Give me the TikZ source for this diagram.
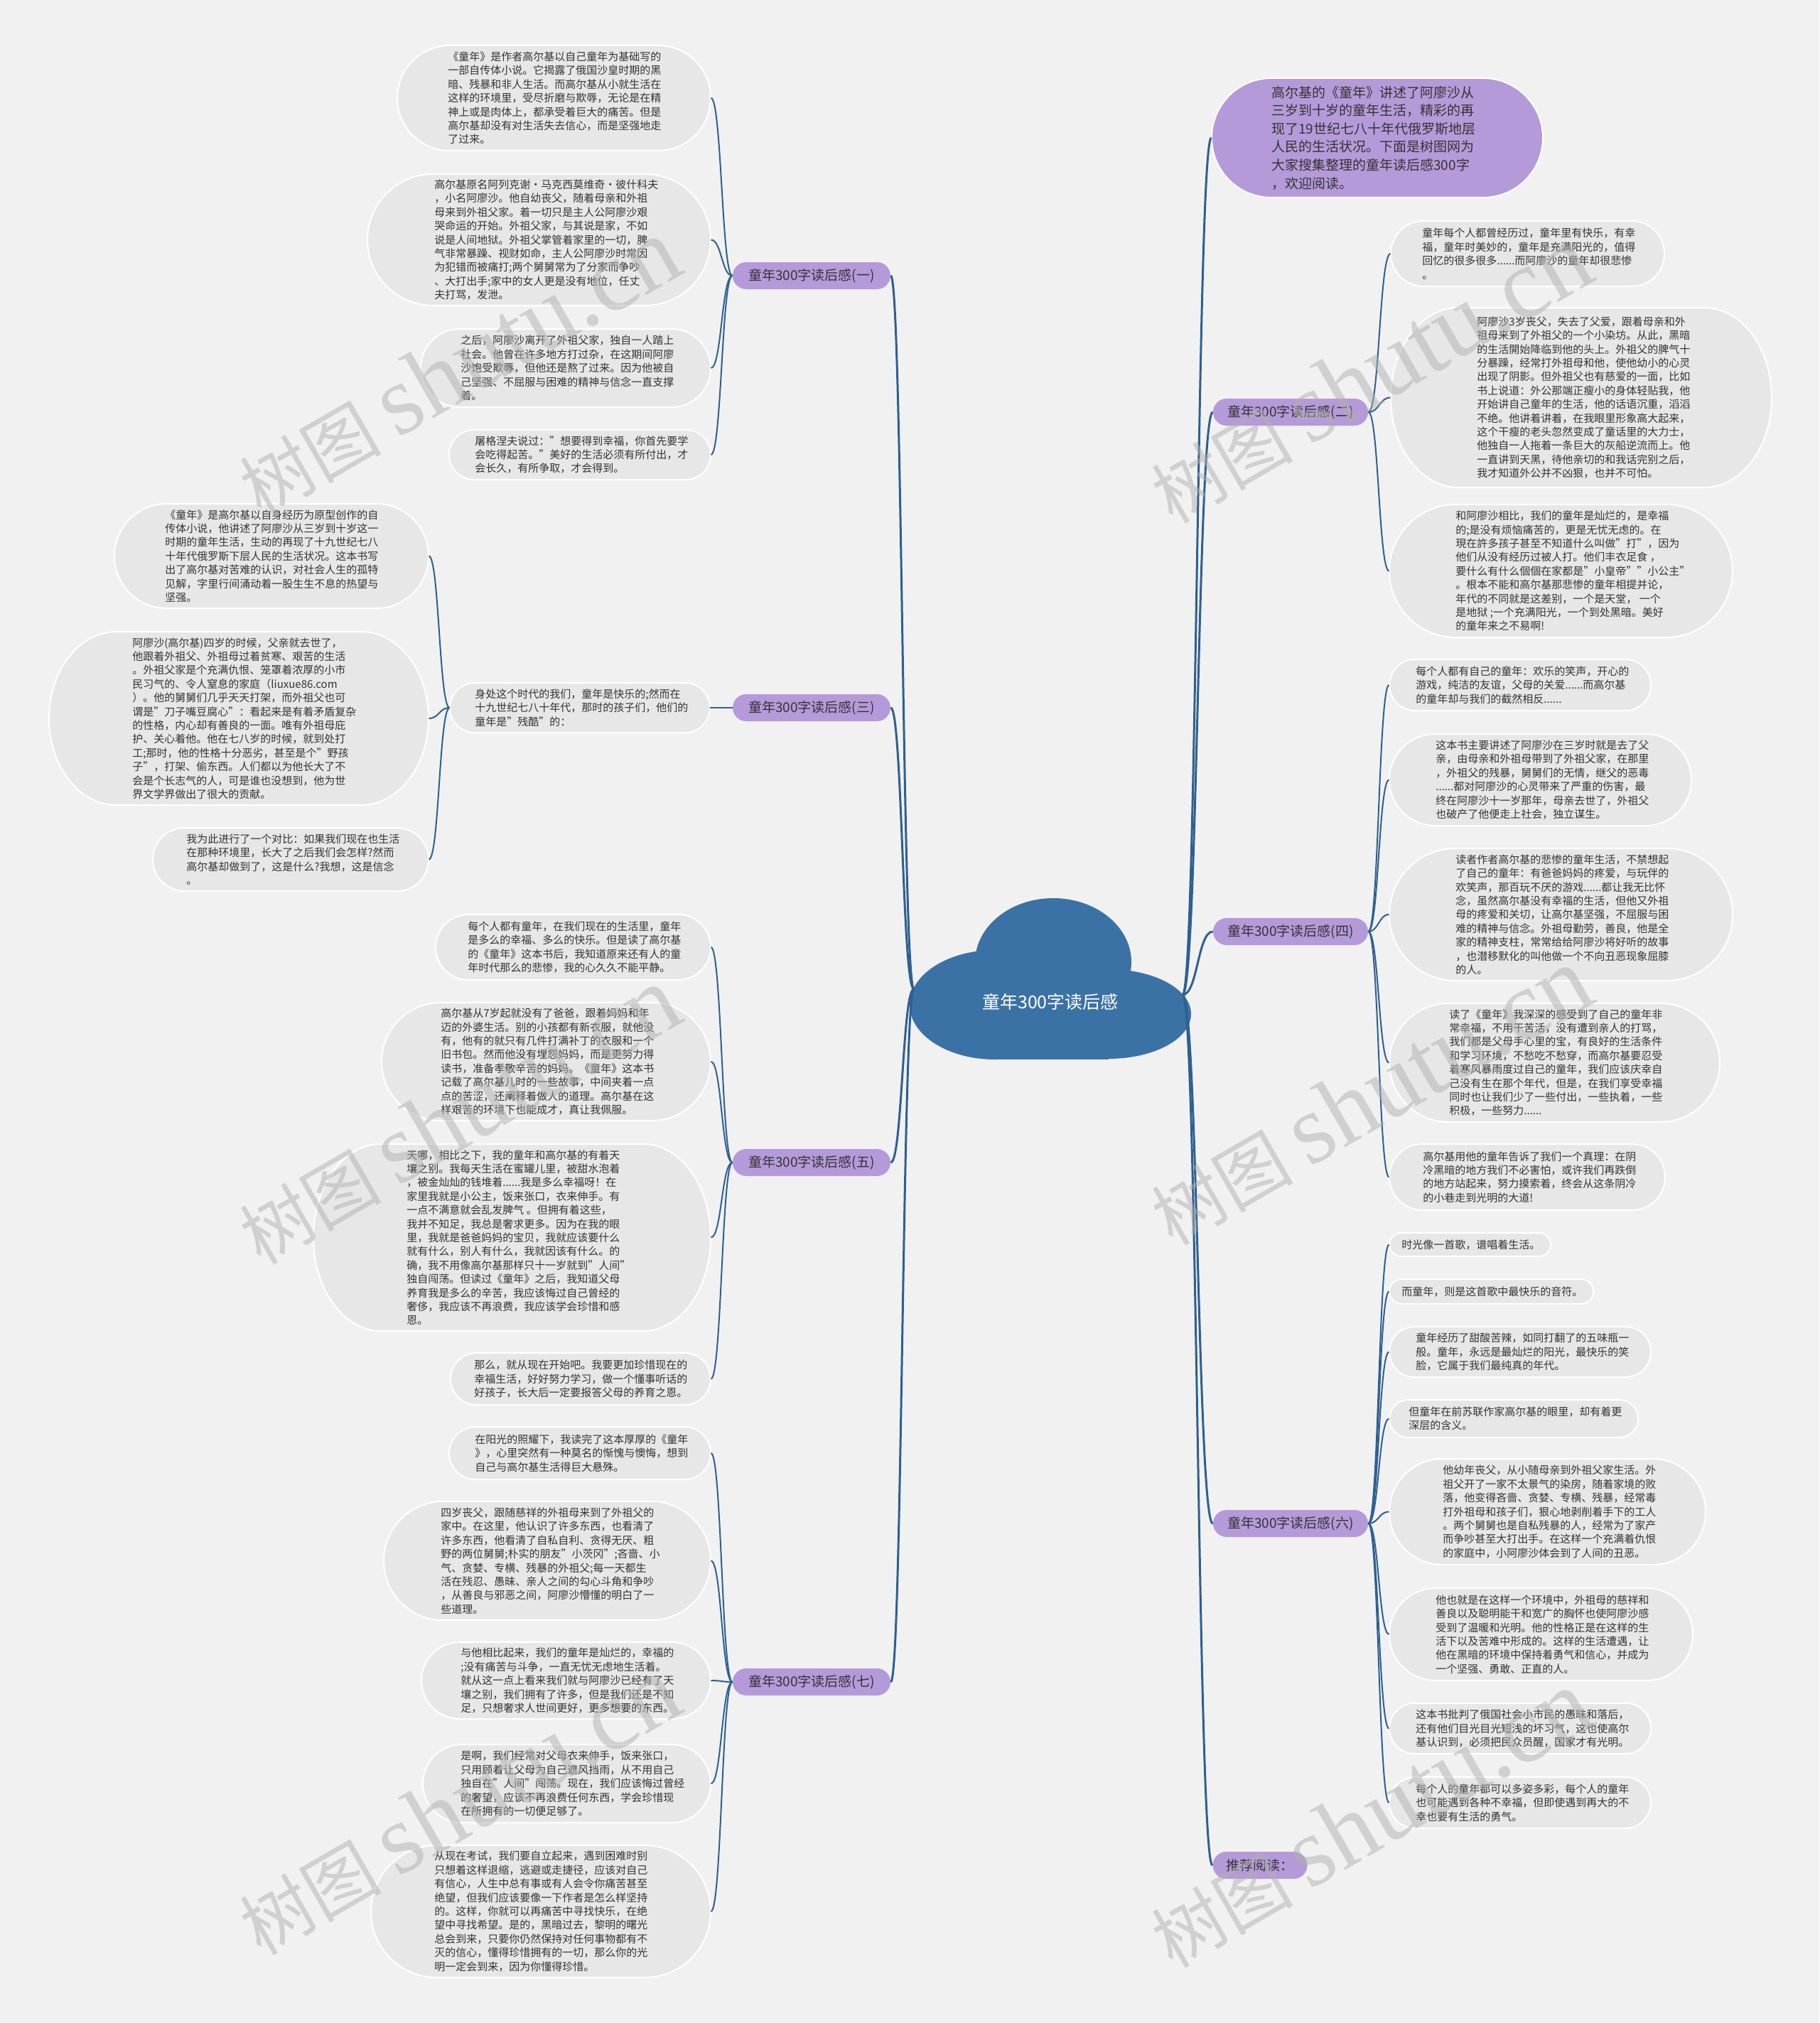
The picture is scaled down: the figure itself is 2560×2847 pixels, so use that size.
\documentclass[tikz,border=0pt]{standalone}
\usepackage{fontspec}
\setmainfont{Noto Sans CJK SC}
\newfontfamily\wmlatin{Liberation Serif}
\usetikzlibrary{fit,calc,shapes.misc}
\definecolor{bgc}{HTML}{F1F1F1}
\definecolor{bubc}{HTML}{E7E7E7}
\definecolor{labc}{HTML}{B59AD9}
\definecolor{linec}{HTML}{2E6090}
\definecolor{cloudc}{HTML}{3B72A5}
\definecolor{txtc}{HTML}{333333}
\definecolor{wmc}{HTML}{B0B0B0}
\tikzset{
 bubble/.style={fill=bubc, draw=white, line width=1pt},
 introbub/.style={fill=labc, draw=white, line width=1pt},
 leaftext/.style={font=\fontsize{7.5pt}{9.7pt}\selectfont, text=txtc, align=left, inner sep=0pt},
 introtext/.style={font=\fontsize{9.5pt}{12.8pt}\selectfont, text=txtc, align=left, inner sep=0pt},
 lab/.style={rounded rectangle, fill=labc, minimum height=19pt, inner sep=0pt, font=\fontsize{9.5pt}{11pt}\selectfont, text=txtc},
 mainline/.style={draw=linec, line width=1.5pt},
 subline/.style={draw=linec, line width=1pt},
 wm/.style={text=wmc, text opacity=0.5, rotate=30, inner sep=0pt}
}
% bubble shape: #1 style, #2 x1, #3 y1, #4 x2, #5 y2
\newcommand\bubshape[5]{%
 \pgfmathsetmacro\bhh{(#5-#3)/2}%
 \pgfmathsetmacro\brx{min(95,\bhh)}%
 \pgfmathsetmacro\bym{(#3+#5)/2}%
 \path[#1] (#2+\brx,#3) -- (#4-\brx,#3) .. controls (#4-0.448*\brx,#3) and (#4,\bym-0.552*\bhh) .. (#4,\bym) .. controls (#4,\bym+0.552*\bhh) and (#4-0.448*\brx,#5) .. (#4-\brx,#5) -- (#2+\brx,#5) .. controls (#2+0.448*\brx,#5) and (#2,\bym+0.552*\bhh) .. (#2,\bym) .. controls (#2,\bym-0.552*\bhh) and (#2+0.448*\brx,#3) .. (#2+\brx,#3) -- cycle;%
}
% leaf: #1 name, #2 x1, #3 y1, #4 x2, #5 y2, #6 text left, #7 text
\newcommand\leaf[7]{%
 \bubshape{bubble}{#2}{#3}{#4}{#5}%
 \node[fit={(#2,#3)(#4,#5)}, inner sep=0pt] (#1) {};%
 \node[leaftext, anchor=west] (#1-t) at (#6,\bym) {#7};%
}
\newcommand\sconn[3][subline]{\draw[#1] let \p1=(#2), \p2=(#3) in (\p1) .. controls ({(\x1+\x2)/2},\y1) and ({(\x1+\x2)/2},\y2) .. (\p2);}

\begin{document}
\begin{tikzpicture}[x=0.5pt,y=-0.5pt]
\fill[bgc] (0,0) rectangle (2560,2847);
\useasboundingbox (0,0) rectangle (2560,2847);

% ---------- cloud ----------
\fill[cloudc] (1400,1414) ellipse [x radius=120, y radius=77];
\fill[cloudc] (1482,1354) ellipse [x radius=110, y radius=90];
\fill[cloudc] (1560,1427) ellipse [x radius=116, y radius=63];
\fill[cloudc] (1400,1380) rectangle (1560,1491);
\node[font=\fontsize{12.5pt}{14pt}\selectfont, text=white] (root) at (1478,1410) {童年300字读后感};
\coordinate (root-l) at (1286,1392);
\coordinate (root-r) at (1664,1400);

% ---------- labels ----------
\node[lab, minimum width=111pt] (s1) at (1142,388) {童年300字读后感(一)};
\node[lab, minimum width=111pt] (s3) at (1142,996) {童年300字读后感(三)};
\node[lab, minimum width=111pt] (s5) at (1142,1636) {童年300字读后感(五)};
\node[lab, minimum width=111pt] (s7) at (1142,2367) {童年300字读后感(七)};
\node[lab, minimum width=109pt] (s2) at (1816,580) {童年300字读后感(二)};
\node[lab, minimum width=109pt] (s4) at (1816,1311) {童年300字读后感(四)};
\node[lab, minimum width=109pt] (s6) at (1816,2144) {童年300字读后感(六)};
\node[lab, minimum width=66.5pt] (s8) at (1773,2625) {推荐阅读：};

% ---------- intro ----------
\bubshape{introbub}{1705}{110}{2171}{278}
\node[fit={(1705,110)(2171,278)}, inner sep=0pt] (intro) {};
\node[introtext, anchor=west] (intro-t) at (1789,194) {高尔基的《童年》讲述了阿廖沙从\\三岁到十岁的童年生活，精彩的再\\现了19世纪七八十年代俄罗斯地层\\人民的生活状况。下面是树图网为\\大家搜集整理的童年读后感300字\\，欢迎阅读。};

% ---------- section 1 ----------
\leaf{L1a}{559}{64}{1000}{212}{630}{《童年》是作者高尔基以自己童年为基础写的\\一部自传体小说。它揭露了俄国沙皇时期的黑\\暗、残暴和非人生活。而高尔基从小就生活在\\这样的环境里，受尽折磨与欺辱，无论是在精\\神上或是肉体上，都承受着巨大的痛苦。但是\\高尔基却没有对生活失去信心，而是坚强地走\\了过来。}
\leaf{L1b}{517}{245}{1000}{430}{611}{高尔基原名阿列克谢·马克西莫维奇·彼什科夫\\，小名阿廖沙。他自幼丧父，随着母亲和外祖\\母来到外祖父家。着一切只是主人公阿廖沙艰\\哭命运的开始。外祖父家，与其说是家，不如\\说是人间地狱。外祖父掌管着家里的一切，脾\\气非常暴躁、视财如命，主人公阿廖沙时常因\\为犯错而被痛打;两个舅舅常为了分家而争吵\\、大打出手;家中的女人更是没有地位，任丈\\夫打骂，发泄。}
\leaf{L1c}{592}{463}{1000}{573}{648}{之后，阿廖沙离开了外祖父家，独自一人踏上\\社会。他曾在许多地方打过杂，在这期间阿廖\\沙饱受欺辱，但他还是熬了过来。因为他被自\\己坚强、不屈服与困难的精神与信念一直支撑\\着。}
\leaf{L1d}{632}{605}{1000}{675}{668}{屠格涅夫说过："想要得到幸福，你首先要学\\会吃得起苦。"美好的生活必须有所付出，才\\会长久，有所争取，才会得到。}

% ---------- section 3 ----------
\leaf{L3p}{633}{961}{999}{1031}{668}{身处这个时代的我们，童年是快乐的;然而在\\十九世纪七八十年代，那时的孩子们，他们的\\童年是"残酷"的：}
\leaf{L3a}{161}{709}{603}{856}{232}{《童年》是高尔基以自身经历为原型创作的自\\传体小说，他讲述了阿廖沙从三岁到十岁这一\\时期的童年生活，生动的再现了十九世纪七八\\十年代俄罗斯下层人民的生活状况。这本书写\\出了高尔基对苦难的认识，对社会人生的孤特\\见解，字里行间涌动着一股生生不息的热望与\\坚强。}
\leaf{L3b}{69}{889}{603}{1133}{186}{阿廖沙(高尔基)四岁的时候，父亲就去世了，\\他跟着外祖父、外祖母过着贫寒、艰苦的生活\\。外祖父家是个充满仇恨、笼罩着浓厚的小市\\民习气的、令人窒息的家庭（liuxue86.com\\）。他的舅舅们几乎天天打架，而外祖父也可\\谓是"刀子嘴豆腐心"：看起来是有着矛盾复杂\\的性格，内心却有善良的一面。唯有外祖母庇\\护、关心着他。他在七八岁的时候，就到处打\\工;那时，他的性格十分恶劣，甚至是个"野孩\\子"，打架、偷东西。人们都以为他长大了不\\会是个长志气的人，可是谁也没想到，他为世\\界文学界做出了很大的贡献。}
\leaf{L3c}{215}{1165}{603}{1254}{262}{我为此进行了一个对比：如果我们现在也生活\\在那种环境里，长大了之后我们会怎样?然而\\高尔基却做到了，这是什么?我想，这是信念\\。}

% ---------- section 5 ----------
\leaf{L5a}{613}{1287}{1000}{1379}{658}{每个人都有童年，在我们现在的生活里，童年\\是多么的幸福、多么的快乐。但是读了高尔基\\的《童年》这本书后，我知道原来还有人的童\\年时代那么的悲惨，我的心久久不能平静。}
\leaf{L5b}{537}{1411}{1000}{1577}{620}{高尔基从7岁起就没有了爸爸，跟着妈妈和年\\迈的外婆生活。别的小孩都有新衣服，就他没\\有，他有的就只有几件打满补丁的衣服和一个\\旧书包。然而他没有埋怨妈妈，而是更努力得\\读书，准备孝敬辛苦的妈妈。《童年》这本书\\记载了高尔基儿时的一些故事，中间夹着一点\\点的苦涩，还阐释着做人的道理。高尔基在这\\样艰苦的环境下也能成才，真让我佩服。}
\leaf{L5c}{441}{1610}{1000}{1873}{572}{天哪，相比之下，我的童年和高尔基的有着天\\壤之别。我每天生活在蜜罐儿里，被甜水泡着\\，被金灿灿的钱堆着......我是多么幸福呀！在\\家里我就是小公主，饭来张口，衣来伸手。有\\一点不满意就会乱发脾气 。但拥有着这些，\\我并不知足，我总是奢求更多。因为在我的眼\\里，我就是爸爸妈妈的宝贝，我就应该要什么\\就有什么，别人有什么，我就因该有什么。的\\确，我不用像高尔基那样只十一岁就到"人间"\\独自闯荡。但读过《童年》之后，我知道父母\\养育我是多么的辛苦，我应该悔过自己曾经的\\奢侈，我应该不再浪费，我应该学会珍惜和感\\恩。}
\leaf{L5d}{634}{1904}{1000}{1977}{667}{那么，就从现在开始吧。我要更加珍惜现在的\\幸福生活，好好努力学习，做一个懂事听话的\\好孩子，长大后一定要报答父母的养育之恩。}

% ---------- section 7 ----------
\leaf{L7a}{632}{2008}{1000}{2082}{668}{在阳光的照耀下，我读完了这本厚厚的《童年\\》，心里突然有一种莫名的惭愧与懊悔，想到\\自己与高尔基生活得巨大悬殊。}
\leaf{L7b}{540}{2113}{1000}{2280}{620}{四岁丧父，跟随慈祥的外祖母来到了外祖父的\\家中。在这里，他认识了许多东西，也看清了\\许多东西，他看清了自私自利、贪得无厌、粗\\野的两位舅舅;朴实的朋友"小茨冈";吝啬、小\\气、贪婪、专横、残暴的外祖父;每一天都生\\活在残忍、愚昧、亲人之间的勾心斗角和争吵\\，从善良与邪恶之间，阿廖沙懵懂的明白了一\\些道理。}
\leaf{L7c}{593}{2311}{1000}{2419}{648}{与他相比起来，我们的童年是灿烂的，幸福的\\;没有痛苦与斗争，一直无忧无虑地生活着。\\就从这一点上看来我们就与阿廖沙已经有了天\\壤之别，我们拥有了许多，但是我们还是不知\\足，只想奢求人世间更好，更多想要的东西。}
\leaf{L7d}{595}{2455}{1000}{2565}{648}{是啊，我们经常对父母衣来伸手，饭来张口，\\只用顾着让父母为自己遮风挡雨，从不用自己\\独自在"人间"闯荡。现在，我们应该悔过曾经\\的奢望，应该不再浪费任何东西，学会珍惜现\\在所拥有的一切便足够了。}
\leaf{L7e}{522}{2597}{1000}{2783}{611}{从现在考试，我们要自立起来，遇到困难时别\\只想着这样退缩，逃避或走捷径，应该对自己\\有信心，人生中总有事或有人会令你痛苦甚至\\绝望，但我们应该要像一下作者是怎么样坚持\\的。这样，你就可以再痛苦中寻找快乐，在绝\\望中寻找希望。是的，黑暗过去，黎明的曙光\\总会到来，只要你仍然保持对任何事物都有不\\灭的信心，懂得珍惜拥有的一切，那么你的光\\明一定会到来，因为你懂得珍惜。}

% ---------- section 2 ----------
\leaf{R2a}{1957}{311}{2342}{403}{2001}{童年每个人都曾经历过，童年里有快乐，有幸\\福，童年时美妙的，童年是充满阳光的，值得\\回忆的很多很多......而阿廖沙的童年却很悲惨\\。}
\leaf{R2b}{1957}{433}{2493}{686}{2078}{阿廖沙3岁丧父，失去了父爱，跟着母亲和外\\祖母来到了外祖父的一个小染坊。从此，黑暗\\的生活開始降临到他的头上。外祖父的脾气十\\分暴躁，经常打外祖母和他，使他幼小的心灵\\出现了阴影。但外祖父也有慈爱的一面，比如\\书上说道：外公那端正瘦小的身体轻贴我，他\\开始讲自己童年的生活，他的话语沉重，滔滔\\不绝。他讲着讲着，在我眼里形象高大起来，\\这个干瘦的老头忽然变成了童话里的大力士，\\他独自一人拖着一条巨大的灰船逆流而上。他\\一直讲到天黑，待他亲切的和我话完别之后，\\我才知道外公并不凶狠，也并不可怕。}
\leaf{R2c}{1955}{710}{2438}{897}{2048}{和阿廖沙相比，我们的童年是灿烂的，是幸福\\的;是没有烦恼痛苦的，更是无忧无虑的。在\\現在許多孩子甚至不知道什么叫做"打"，因为\\他们从没有经历过被人打。他们丰衣足食 ，\\要什么有什么個個在家都是"小皇帝""小公主"\\。根本不能和高尔基那悲惨的童年相提并论，\\年代的不同就是这差别，一个是天堂， 一个\\是地狱 ;一个充满阳光，一个到处黑暗。美好\\的童年来之不易啊!}

% ---------- section 4 ----------
\leaf{R4a}{1955}{928}{2323}{1000}{1992}{每个人都有自己的童年：欢乐的笑声，开心的\\游戏，纯洁的友谊，父母的关爱......而高尔基\\的童年却与我们的截然相反......}
\leaf{R4b}{1955}{1033}{2380}{1162}{2020}{这本书主要讲述了阿廖沙在三岁时就是去了父\\亲，由母亲和外祖母带到了外祖父家，在那里\\，外祖父的残暴，舅舅们的无情，继父的恶毒\\......都对阿廖沙的心灵带来了严重的伤害，最\\终在阿廖沙十一岁那年，母亲去世了，外祖父\\也破产了他便走上社会，独立谋生。}
\leaf{R4c}{1955}{1194}{2438}{1380}{2048}{读者作者高尔基的悲惨的童年生活，不禁想起\\了自己的童年：有爸爸妈妈的疼爱，与玩伴的\\欢笑声，那百玩不厌的游戏......都让我无比怀\\念，虽然高尔基没有幸福的生活，但他又外祖\\母的疼爱和关切，让高尔基坚强，不屈服与困\\难的精神与信念。外祖母勤劳，善良，他是全\\家的精神支柱，常常给给阿廖沙将好听的故事\\，也潜移默化的叫他做一个不向丑恶现象屈膝\\的人。}
\leaf{R4d}{1955}{1412}{2420}{1579}{2039}{读了《童年》我深深的感受到了自己的童年非\\常幸福，不用干苦活，没有遭到亲人的打骂，\\我们都是父母手心里的宝，有良好的生活条件\\和学习环境，不愁吃不愁穿，而高尔基要忍受\\着寒风暴雨度过自己的童年，我们应该庆幸自\\己没有生在那个年代，但是，在我们享受幸福\\同时也让我们少了一些付出，一些执着，一些\\积极，一些努力......}
\leaf{R4e}{1955}{1610}{2343}{1703}{2002}{高尔基用他的童年告诉了我们一个真理：在阴\\冷黑暗的地方我们不必害怕，或许我们再跌倒\\的地方站起来，努力摸索着，终会从这条阴冷\\的小巷走到光明的大道!}

% ---------- section 6 ----------
\leaf{R6a}{1955}{1735}{2182}{1768}{1972}{时光像一首歌，谱唱着生活。}
\leaf{R6b}{1955}{1800}{2242}{1835}{1972}{而童年，则是这首歌中最快乐的音符。}
\leaf{R6c}{1955}{1867}{2323}{1938}{1992}{童年经历了甜酸苦辣，如同打翻了的五味瓶一\\般。童年，永远是最灿烂的阳光，最快乐的笑\\脸，它属于我们最纯真的年代。}
\leaf{R6d}{1955}{1970}{2305}{2023}{1982}{但童年在前苏联作家高尔基的眼里，却有着更\\深层的含义。}
\leaf{R6e}{1955}{2053}{2400}{2202}{2030}{他幼年丧父，从小随母亲到外祖父家生活。外\\祖父开了一家不太景气的染房，随着家境的败\\落，他变得吝啬、贪婪、专横、残暴，经常毒\\打外祖母和孩子们，狠心地剥削着手下的工人\\。两个舅舅也是自私残暴的人，经常为了家产\\而争吵甚至大打出手。在这样一个充满着仇恨\\的家庭中，小阿廖沙体会到了人间的丑恶。}
\leaf{R6f}{1955}{2235}{2382}{2365}{2020}{他也就是在这样一个环境中，外祖母的慈祥和\\善良以及聪明能干和宽广的胸怀也使阿廖沙感\\受到了温暖和光明。他的性格正是在这样的生\\活下以及苦难中形成的。这样的生活遭遇，让\\他在黑暗的环境中保持着勇气和信心，并成为\\一个坚强、勇敢、正直的人。}
\leaf{R6g}{1955}{2397}{2323}{2468}{1992}{这本书批判了俄国社会小市民的愚昧和落后，\\还有他们目光目光短浅的坏习气，这也使高尔\\基认识到，必须把民众员醒，国家才有光明。}
\leaf{R6h}{1955}{2501}{2323}{2573}{1992}{每个人的童年都可以多姿多彩，每个人的童年\\也可能遇到各种不幸福，但即使遇到再大的不\\幸也要有生活的勇气。}

% ---------- main connectors ----------
\sconn[mainline]{root-l}{s1.east}
\sconn[mainline]{root-l}{s3.east}
\sconn[mainline]{root-l}{s5.east}
\sconn[mainline]{root-l}{s7.east}
\sconn[mainline]{root-r}{intro.west}
\sconn[mainline]{root-r}{s2.west}
\sconn[mainline]{root-r}{s4.west}
\sconn[mainline]{root-r}{s6.west}
\sconn[mainline]{root-r}{s8.west}

% ---------- sub connectors ----------
\foreach \c in {L1a,L1b,L1c,L1d} {\sconn{s1.west}{\c.east}}
\sconn{s3.west}{L3p.east}
\foreach \c in {L3a,L3b,L3c} {\sconn{L3p.west}{\c.east}}
\foreach \c in {L5a,L5b,L5c,L5d} {\sconn{s5.west}{\c.east}}
\foreach \c in {L7a,L7b,L7c,L7d,L7e} {\sconn{s7.west}{\c.east}}
\foreach \c in {R2a,R2b,R2c} {\sconn{s2.east}{\c.west}}
\foreach \c in {R4a,R4b,R4c,R4d,R4e} {\sconn{s4.east}{\c.west}}
\foreach \c in {R6a,R6b,R6c,R6d,R6e,R6f,R6g,R6h} {\sconn{s6.east}{\c.west}}

% ---------- watermarks ----------
\foreach \n/\x/\y in {1/645/517, 2/645/1570, 3/645/2542, 4/1928/527, 5/1928/1543, 6/1928/2560} {
 \node[wm] (wm\n) at (\x,\y) {\fontsize{50pt}{50pt}\selectfont 树图 {\wmlatin\fontsize{70pt}{70pt}\selectfont shutu.cn}};
}
\end{tikzpicture}
\end{document}
